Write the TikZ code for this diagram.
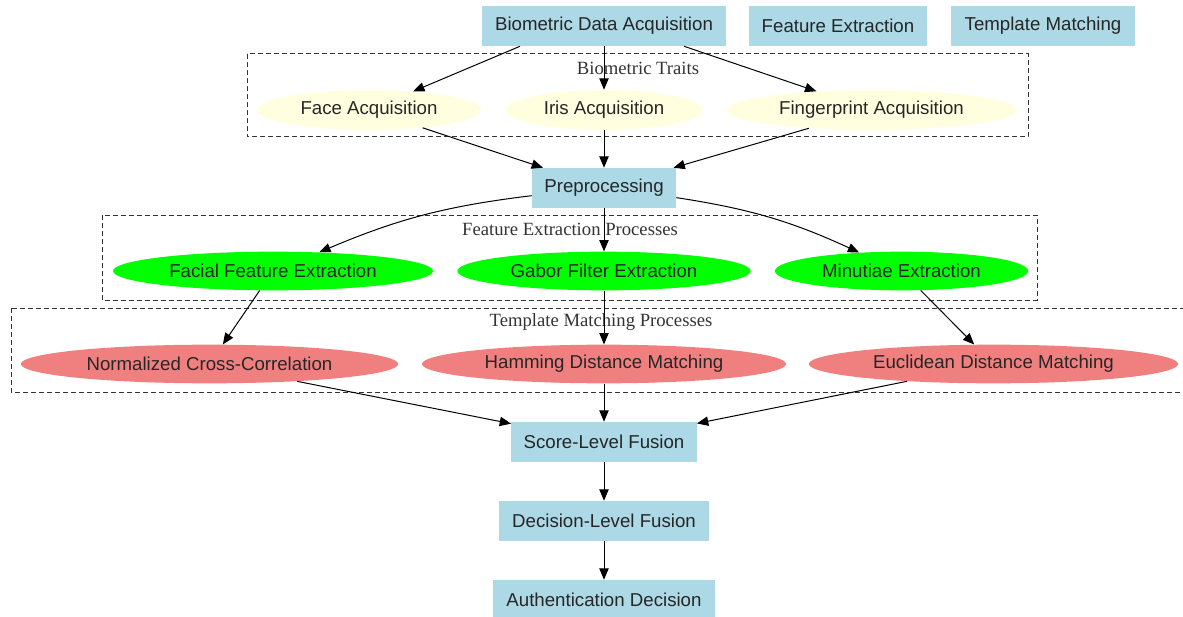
\documentclass[tikz,border=0pt]{standalone}
\usepackage{fontspec}
\setmainfont{Liberation Sans}
\newfontfamily\clusterfont{Liberation Serif}
\usetikzlibrary{arrows.meta,positioning,shapes.geometric}
\definecolor{stageBlue}{HTML}{ADD8E6}
\definecolor{traitYellow}{HTML}{FFFFE0}
\definecolor{featGreen}{HTML}{00FF00}
\definecolor{matchCoral}{HTML}{F08080}

\begin{document}
\begin{tikzpicture}[x=0.75pt,y=-0.75pt,>={Triangle[length=8.5pt,width=7pt]},
  stagebox/.style={rectangle,fill=stageBlue,minimum height=30pt,inner sep=0pt,text=black!85,font=\fontsize{14}{16}\selectfont},
  trait/.style={ellipse,fill=traitYellow,minimum height=30pt,inner sep=0pt,text=black!85,font=\fontsize{14}{16}\selectfont},
  feat/.style={ellipse,fill=featGreen,minimum height=29pt,inner sep=0pt,text=black!85,font=\fontsize{14}{16}\selectfont},
  match/.style={ellipse,fill=matchCoral,minimum height=29pt,inner sep=0pt,text=black!85,font=\fontsize{14}{16}\selectfont},
  cluster/.style={draw=black!80,dash pattern=on 3.75pt off 2.25pt,line width=0.75pt},
  clusterlabel/.style={font=\clusterfont\fontsize{14}{16}\selectfont,text=black!80},
  flow/.style={->,line width=0.75pt}]
  \useasboundingbox (0,0) rectangle (1183,617);

  % clusters
  \draw[cluster] (247,54) rectangle (1028,137);
  \node[clusterlabel] (traitslabel) at (638,68) {Biometric Traits};
  \draw[cluster] (102,215) rectangle (1037,300);
  \node[clusterlabel] (featlabel) at (570,229) {Feature Extraction Processes};
  \draw[cluster] (11,308) rectangle (1190,392);
  \node[clusterlabel] (matchlabel) at (601,322) {Template Matching Processes};

  % top row
  \node[stagebox,minimum width=183pt] (bda) at (604,26) {Biometric Data Acquisition};
  \node[stagebox,minimum width=133.5pt] (fe) at (838,26) {Feature Extraction};
  \node[stagebox,minimum width=138pt] (tm) at (1043,26) {Template Matching};

  % traits
  \node[trait,minimum width=168pt] (face) at (369,110) {Face Acquisition};
  \node[trait,minimum width=148pt] (iris) at (604,110) {Iris Acquisition};
  \node[trait,minimum width=217pt] (finger) at (871.5,110) {Fingerprint Acquisition};

  \node[stagebox,minimum width=108pt] (pre) at (604,188) {Preprocessing};

  % features
  \node[feat,minimum width=240pt] (facial) at (273,271) {Facial Feature Extraction};
  \node[feat,minimum width=220pt] (gabor) at (604,271) {Gabor Filter Extraction};
  \node[feat,minimum width=190pt] (minutiae) at (901.5,271) {Minutiae Extraction};

  % matching
  \node[match,minimum width=283pt] (ncc) at (209.5,364) {Normalized Cross-Correlation};
  \node[match,minimum width=273pt] (hamming) at (604,364) {Hamming Distance Matching};
  \node[match,minimum width=277pt] (euclid) at (993.5,364) {Euclidean Distance Matching};

  % fusion
  \node[stagebox,minimum width=139pt] (score) at (604,442) {Score-Level Fusion};
  \node[stagebox,minimum width=157.5pt] (decision) at (604,521) {Decision-Level Fusion};
  \node[stagebox,minimum width=166.5pt] (auth) at (604,600) {Authentication Decision};

  \draw[flow] ([xshift=-63pt]bda.south) -- (face);
  \draw[flow] (bda) -- (iris);
  \draw[flow] ([xshift=60pt]bda.south) -- (finger);
  \draw[flow] (face) -- (pre);
  \draw[flow] (iris) -- (pre);
  \draw[flow] (finger) -- (pre);
  \draw[flow] (pre) to[bend right=8] (facial);
  \draw[flow] (pre) -- (gabor);
  \draw[flow] (pre) to[bend left=8] (minutiae);
  \draw[flow] (facial) -- (ncc);
  \draw[flow] (gabor) -- (hamming);
  \draw[flow] (minutiae) -- (euclid);
  \draw[flow] (ncc) -- (score);
  \draw[flow] (hamming) -- (score);
  \draw[flow] (euclid) -- (score);
  \draw[flow] (score) -- (decision);
  \draw[flow] (decision) -- (auth);
\end{tikzpicture}
\end{document}
